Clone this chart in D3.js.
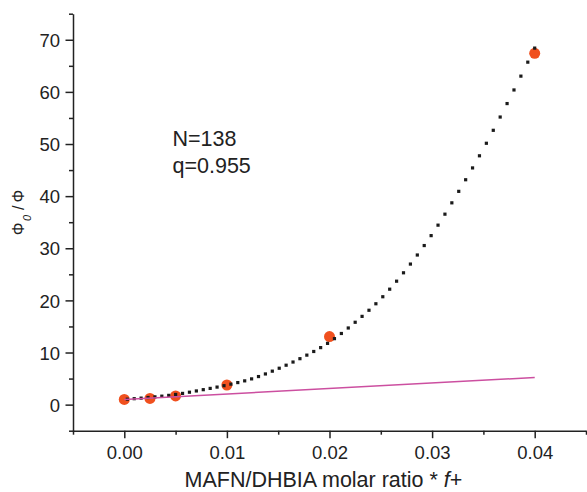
<!DOCTYPE html>
<html>
<head>
<meta charset="utf-8">
<script src="https://cdn.jsdelivr.net/npm/d3@7"></script>
<style>
  body { margin: 0; background: #fff; }
  text { font-family: "Liberation Sans", Arial, Helvetica, sans-serif; fill: #222; }
</style>
</head>
<body>
<svg id="chart" width="587" height="492"></svg>
<script>
// Measured quenching ratios
const ratio  = [0, 0.0025, 0.005, 0.01, 0.02, 0.04];
const quench = [1.0, 1.2, 1.66, 3.77, 13.06, 67.4];

// Fitted amplified-quenching curve (N=138, q=0.955)
const fitX = [0, 0.0025, 0.005, 0.0075, 0.01, 0.0125, 0.015, 0.0175, 0.02,
              0.0225, 0.025, 0.0275, 0.03, 0.0325, 0.035, 0.0375, 0.04];
const fitY = [1.0, 1.4, 1.95, 2.8, 3.76, 5.0, 6.9, 9.2, 12.0,
              15.8, 20.3, 26.0, 32.7, 40.6, 49.1, 58.5, 68.4];

// Linear Stern-Volmer reference line
const linearX = [0, 0.04];
const linearY = [1.0, 5.2];

// Axis ticks
const xTickVals   = [0, 0.01, 0.02, 0.03, 0.04];
const xTickLabels = ["0.00", "0.01", "0.02", "0.03", "0.04"];
const xMinorVals  = [-0.005, 0.005, 0.015, 0.025, 0.035, 0.045];
const yTickVals   = [0, 10, 20, 30, 40, 50, 60, 70];
const yTickLabels = ["0", "10", "20", "30", "40", "50", "60", "70"];
const yMinorVals  = [-5, 5, 15, 25, 35, 45, 55, 65, 75];

const svg = d3.select("#chart");
const x = d3.scaleLinear().domain([-0.005, 0.045]).range([73, 586]);
const y = d3.scaleLinear().domain([-5, 75]).range([430.7, 13.7]);

const axisColor = "#222";

// Bottom axis
const xAxis = svg.append("g").attr("transform", `translate(0,${y(-5)})`)
  .call(d3.axisBottom(x).tickValues(xTickVals)
    .tickFormat((d, i) => xTickLabels[i]).tickSize(7.5).tickSizeOuter(0));
svg.append("g").attr("transform", `translate(0,${y(-5)})`)
  .call(d3.axisBottom(x).tickValues(xMinorVals).tickFormat("").tickSize(4).tickSizeOuter(0))
  .call(g => g.select(".domain").remove());
xAxis.selectAll("text").attr("dy", null).attr("y", 28.5)
  .style("font-size", "18.5px").style("font-family", null);

// Left axis
const yAxis = svg.append("g").attr("transform", `translate(${x(-0.005)},0)`)
  .call(d3.axisLeft(y).tickValues(yTickVals)
    .tickFormat((d, i) => yTickLabels[i]).tickSize(7.5).tickSizeOuter(0));
svg.append("g").attr("transform", `translate(${x(-0.005)},0)`)
  .call(d3.axisLeft(y).tickValues(yMinorVals).tickFormat("").tickSize(4).tickSizeOuter(0))
  .call(g => g.select(".domain").remove());
yAxis.selectAll("text").attr("x", -13).attr("dy", "0.36em")
  .style("font-size", "18.5px").style("font-family", null);

svg.selectAll(".domain, .tick line").attr("stroke", axisColor).attr("stroke-width", 1.5);
svg.selectAll(".tick text").attr("fill", "#222");
svg.selectAll("g").attr("font-family", null);

// Data points
svg.append("g").selectAll("circle")
  .data(ratio.map((r, i) => [r, quench[i]]))
  .join("circle")
  .attr("cx", d => x(d[0]))
  .attr("cy", d => y(d[1]))
  .attr("r", 5.5)
  .attr("fill", "#f0501e");

// Fit curve, rendered as square dots at even x steps
const fitPts = fitX.map((v, i) => [v, fitY[i]]);
const fitLine = d3.line().x(d => x(d[0])).y(d => y(d[1])).curve(d3.curveMonotoneX);
const fitPath = svg.append("path").datum(fitPts).attr("d", fitLine)
  .attr("fill", "none").attr("stroke", "none");
const node = fitPath.node();
const total = node.getTotalLength();
function yOnCurve(px) {
  let lo = 0, hi = total;
  for (let k = 0; k < 40; k++) {
    const mid = (lo + hi) / 2;
    if (node.getPointAtLength(mid).x < px) lo = mid; else hi = mid;
  }
  return node.getPointAtLength((lo + hi) / 2).y;
}
const dotStep = 0.000673;
const dotX = d3.range(0, 60).map(k => 0.04 - k * dotStep).filter(v => v >= 0);
const dotSize = 3.2;
svg.append("g").selectAll("rect")
  .data(dotX)
  .join("rect")
  .attr("x", d => x(d) - dotSize / 2)
  .attr("y", d => yOnCurve(x(d)) - dotSize / 2)
  .attr("width", dotSize)
  .attr("height", dotSize)
  .attr("fill", "#1a1a1a");

// Linear reference line
svg.append("path")
  .datum(linearX.map((v, i) => [v, linearY[i]]))
  .attr("d", d3.line().x(d => x(d[0])).y(d => y(d[1])))
  .attr("fill", "none")
  .attr("stroke", "#cc4fa0")
  .attr("stroke-width", 1.5);

// Fit parameters
svg.append("text").attr("x", 172.5).attr("y", 146).style("font-size", "21.5px").text("N=138");
svg.append("text").attr("x", 172.5).attr("y", 172.5).style("font-size", "21.5px").text("q=0.955");

// Axis titles
const xTitle = svg.append("text").attr("x", 323.5).attr("y", 486.5)
  .attr("text-anchor", "middle").style("font-size", "21.5px");
xTitle.append("tspan").text("MAFN/DHBIA molar ratio * ");
xTitle.append("tspan").style("font-style", "italic").text("f");
xTitle.append("tspan").text("+");

const yTitle = svg.append("text")
  .attr("transform", "translate(24,212.5) rotate(-90)")
  .attr("text-anchor", "middle").style("font-size", "16px");
yTitle.append("tspan").text("Φ");
yTitle.append("tspan").attr("dx", 1.5).attr("dy", 7).style("font-size", "11px")
  .style("font-style", "italic").text("0");
yTitle.append("tspan").attr("dx", 5).attr("dy", -7).text("/");
yTitle.append("tspan").attr("dx", 3).text("Φ");
</script>
</body>
</html>
